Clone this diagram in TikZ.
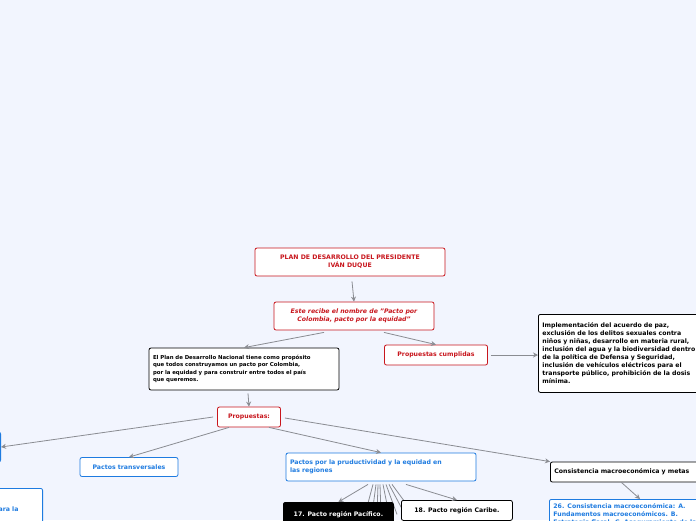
\documentclass[tikz,border=0pt]{standalone}
\usepackage{fontspec}
\setmainfont{DejaVu Sans}
\usetikzlibrary{arrows.meta,calc}
\definecolor{bg}{HTML}{F2F5FE}
\definecolor{redtxt}{HTML}{C8161D}
\definecolor{bluetxt}{HTML}{1E7BE0}
\definecolor{conn}{HTML}{8A8C92}
\tikzset{
  box/.style={draw=#1, rounded corners=2pt, fill=white, line width=0.8pt, inner sep=4pt, font=\fontsize{6.2}{8}\selectfont\bfseries, align=left},
  redbox/.style={box=redtxt, text=redtxt},
  bluebox/.style={box=bluetxt, text=bluetxt},
  blackbox/.style={box=black, text=black},
  link/.style={draw=conn, line width=0.8pt, -{Stealth[length=5pt,width=5pt]}},
  fan/.style={draw=conn, line width=0.8pt}
}
\begin{document}
\begin{tikzpicture}[x=1pt,y=-1pt]
\fill[bg] (0,0) rectangle (696,520);
\clip (0,0) rectangle (696,520);
\node[redbox, minimum width=190pt, minimum height=28pt, align=center] (title) at (350,262) {PLAN DE DESARROLLO DEL PRESIDENTE\\IVÁN DUQUE};
\node[redbox, minimum width=160pt, minimum height=28pt, align=center, font=\fontsize{6.2}{8}\selectfont\bfseries\itshape] (este) at (354,316) {Este recibe el nombre de "Pacto por\\Colombia, pacto por la equidad"};
\node[blackbox, text width=182pt, minimum height=42pt, font=\fontsize{5.4}{7.4}\selectfont\bfseries] (plan) at (244,369) {El Plan de Desarrollo Nacional tiene como propósito\\que todos construyamos un pacto por Colombia,\\por la equidad y para construir entre todos el país\\que queremos.};
\node[redbox, minimum width=103pt, minimum height=20pt] (cump) at (436,355) {Propuestas cumplidas};
\node[blackbox, anchor=north west, minimum height=78pt, text width=190pt] (impl) at (538,314) {Implementación del acuerdo de paz,\\exclusión de los delitos sexuales contra\\niños y niñas, desarrollo en materia rural,\\inclusión del agua y la biodiversidad dentro\\de la política de Defensa y Seguridad,\\inclusión de vehículos eléctricos para el\\transporte público, prohibición de la dosis\\mínima.};
\node[redbox, minimum width=63pt, minimum height=20pt] (prop) at (249,417) {Propuestas:};
\node[bluebox, anchor=east, minimum width=80pt, minimum height=30pt] (left) at (1,447) {};
\node[bluebox, minimum width=98pt, minimum height=19pt] (trans) at (129,467) {Pactos transversales};
\node[bluebox, text width=182pt, minimum height=28pt] (prod) at (381,467) {Pactos por la pruductividad y la equidad en\\las regiones};
\node[bluebox, anchor=north east, minimum width=150pt, minimum height=50pt, align=right] (incl) at (43,488) {Pacto por la inclusión para la\\ };
\node[blackbox, anchor=west, minimum height=20pt, text width=180pt] (cons) at (550,472) {Consistencia macroeconómica y metas};
\node[bluebox, anchor=north west, text width=180pt] (c26) at (549,499) {26. Consistencia macroeconómica: A.\\Fundamentos macroeconómicos. B.\\Estrategia fiscal. C. Aseguramiento de la\\institucionalidad fiscal. D. Iniciativas de\\regulación.};
% fan of links toward the regional pacts
\foreach \d/\e in {-8/-8,-5/-4,-3/-1,-1/1,2/6,5/11,8/16,11/22}
  \draw[fan] ($(prod.south)+(\d,3)$) -- ++(\e,30);
\node[box=black, fill=black, text=white, anchor=north west, minimum width=110pt, minimum height=24pt] (pac) at (283,502) {17. Pacto región Pacífico.};
\node[blackbox, anchor=north west, minimum width=111pt, minimum height=20pt] (car) at (401,500) {18. Pacto región Caribe.};
% connectors
\draw[link] (title.south) ++(2,5) -- (este.north);
\draw[link] (este.south) ++(-30,2) -- (plan.north);
\draw[link] (este.south) ++(30,2) -- (cump.north);
\draw[link] (cump.east) ++(3,0) -- (impl.west |- cump.east);
\draw[link] (plan.south) ++(4,3) -- (prop.north);
\draw[link] (prop.west) ++(-4,0) -- (left.east);
\draw[link] (prop.south) ++(-20,0) -- (trans.north);
\draw[link] (prop.south) ++(20,0) -- (prod.north);
\draw[link] (prop.east) ++(4,1) -- (cons.north west);
\draw[link] (cons.south) ++(-23,0) -- (c26.north -| 640,0);
\draw[link] (prod.south) ++(-13,3) -- (pac.north);
\draw[link] (prod.south) ++(25,3) -- (car.north);
\end{tikzpicture}
\end{document}
